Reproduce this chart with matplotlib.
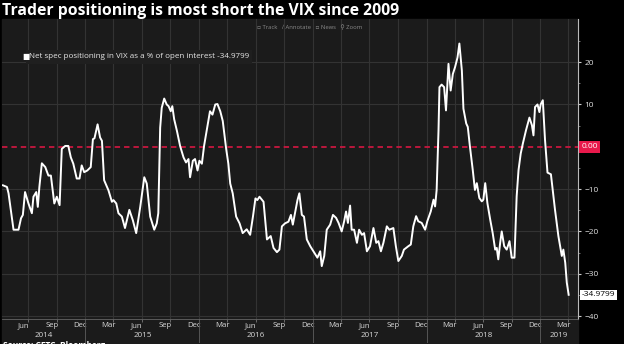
import matplotlib
matplotlib.use("Agg")
import matplotlib.pyplot as plt
import matplotlib.dates as mdates
import matplotlib.transforms as mtransforms
from matplotlib.patches import Rectangle
import pandas as pd

plt.rcParams["font.family"] = ["Open Sans", "DejaVu Sans"]

# CFTC net speculative positioning in VIX futures, % of open interest
dates = [
    "2014-04-11", "2014-04-24", "2014-04-29", "2014-05-15", "2014-05-31", "2014-06-08",
    "2014-06-14", "2014-06-21", "2014-07-02", "2014-07-13", "2014-07-18", "2014-07-27",
    "2014-08-01", "2014-08-06", "2014-08-14", "2014-08-25", "2014-09-04", "2014-09-12",
    "2014-09-23", "2014-10-01", "2014-10-10", "2014-10-17", "2014-10-28", "2014-11-07",
    "2014-11-15", "2014-11-23", "2014-12-04", "2014-12-13", "2014-12-20", "2014-12-28",
    "2015-01-07", "2015-01-18", "2015-01-25", "2015-01-30", "2015-02-09", "2015-02-17",
    "2015-02-23", "2015-03-02", "2015-03-16", "2015-03-27", "2015-04-01", "2015-04-10",
    "2015-04-17", "2015-04-28", "2015-05-08", "2015-05-22", "2015-06-02", "2015-06-13",
    "2015-06-26", "2015-07-09", "2015-07-17", "2015-07-28", "2015-08-10", "2015-08-18",
    "2015-08-23", "2015-08-29", "2015-09-03", "2015-09-11", "2015-09-19", "2015-09-25",
    "2015-10-02", "2015-10-07", "2015-10-13", "2015-10-22", "2015-11-01", "2015-11-12",
    "2015-11-20", "2015-11-28", "2015-12-03", "2015-12-12", "2015-12-19", "2015-12-27",
    "2016-01-02", "2016-01-10", "2016-01-17", "2016-01-26", "2016-02-05", "2016-02-13",
    "2016-02-22", "2016-02-29", "2016-03-09", "2016-03-17", "2016-03-28", "2016-04-04",
    "2016-04-10", "2016-04-18", "2016-04-29", "2016-05-10", "2016-05-20", "2016-06-02",
    "2016-06-13", "2016-06-22", "2016-06-30", "2016-07-06", "2016-07-13", "2016-07-26",
    "2016-08-06", "2016-08-18", "2016-08-27", "2016-09-07", "2016-09-15", "2016-09-23",
    "2016-10-03", "2016-10-14", "2016-10-22", "2016-10-28", "2016-11-04", "2016-11-12",
    "2016-11-18", "2016-11-26", "2016-12-03", "2016-12-12", "2016-12-23", "2017-01-08",
    "2017-01-15", "2017-01-24", "2017-01-29", "2017-02-06", "2017-02-14", "2017-02-25",
    "2017-03-06", "2017-03-16", "2017-03-24", "2017-04-03", "2017-04-11", "2017-04-17",
    "2017-04-23", "2017-04-30", "2017-05-05", "2017-05-13", "2017-05-22", "2017-05-29",
    "2017-06-07", "2017-06-14", "2017-06-23", "2017-07-03", "2017-07-14", "2017-07-23",
    "2017-07-30", "2017-08-07", "2017-08-15", "2017-08-26", "2017-09-03", "2017-09-16",
    "2017-09-24", "2017-10-02", "2017-10-13", "2017-10-20", "2017-11-03", "2017-11-11",
    "2017-11-19", "2017-11-28", "2017-12-05", "2017-12-16", "2017-12-27", "2018-01-03",
    "2018-01-14", "2018-01-23", "2018-01-28", "2018-02-02", "2018-02-08", "2018-02-11",
    "2018-02-18", "2018-02-26", "2018-03-04", "2018-03-12", "2018-03-19", "2018-03-26",
    "2018-04-02", "2018-04-10", "2018-04-16", "2018-04-24", "2018-04-29", "2018-05-08",
    "2018-05-13", "2018-05-20", "2018-05-29", "2018-06-05", "2018-06-11", "2018-06-19",
    "2018-06-27", "2018-07-02", "2018-07-08", "2018-07-15", "2018-07-24", "2018-08-01",
    "2018-08-09", "2018-08-14", "2018-08-19", "2018-08-25", "2018-08-30", "2018-09-07",
    "2018-09-15", "2018-09-24", "2018-10-01", "2018-10-10", "2018-10-17", "2018-10-23",
    "2018-10-30", "2018-11-06", "2018-11-16", "2018-11-27", "2018-12-05", "2018-12-10",
    "2018-12-15", "2018-12-23", "2018-12-29", "2019-01-02", "2019-01-09", "2019-01-16",
    "2019-01-24", "2019-02-04", "2019-02-17", "2019-02-28", "2019-03-11", "2019-03-16",
    "2019-03-22", "2019-03-27", "2019-04-02",
]
values = [
    -9.1, -9.5, -11.0, -19.6, -19.6, -16.9,
    -16.1, -10.7, -13.4, -15.7, -11.8, -10.7,
    -14.2, -9.5, -3.9, -4.8, -6.8, -6.8,
    -13.4, -11.8, -13.8, -0.5, 0.2, 0.2,
    -2.5, -4.0, -7.5, -7.5, -4.4, -6.0,
    -5.6, -4.8, 1.8, 2.0, 5.3, 2.2,
    1.4, -7.9, -10.3, -13.0, -12.6, -13.4,
    -15.7, -16.5, -19.2, -14.9, -17.3, -20.4,
    -14.2, -7.2, -8.7, -16.5, -19.6, -18.1,
    -15.7, 4.5, 9.2, 11.4, 10.0, 9.6,
    8.4, 9.6, 6.5, 3.7, 0.2, -2.5,
    -3.7, -2.9, -7.2, -3.3, -2.9, -5.6,
    -3.3, -4.0, 0.2, 4.1, 8.4, 7.6,
    10.0, 10.1, 8.4, 6.1, -0.5, -4.0,
    -8.7, -11.0, -16.5, -18.1, -20.4, -19.5,
    -20.8, -16.5, -12.2, -12.6, -11.8, -13.0,
    -21.9, -21.1, -23.9, -24.9, -24.3, -18.8,
    -18.1, -17.7, -16.1, -18.4, -15.7, -12.6,
    -11.0, -16.1, -16.5, -21.9, -23.5, -25.4,
    -26.2, -24.7, -28.2, -25.8, -19.6, -18.4,
    -16.1, -16.8, -18.0, -20.0, -17.6, -15.3,
    -18.0, -13.9, -19.6, -19.6, -22.7, -19.6,
    -20.8, -20.4, -24.7, -23.5, -19.2, -22.7,
    -22.3, -24.7, -22.7, -18.8, -19.6, -19.2,
    -23.5, -27.0, -25.8, -24.3, -23.5, -23.1,
    -18.8, -16.4, -17.6, -18.0, -19.6, -17.6,
    -15.3, -12.5, -14.1, -10.2, 3.9, 14.1,
    14.7, 14.1, 8.6, 19.6, 13.3, 17.2,
    18.8, 21.1, 24.4, 18.0, 9.0, 5.5,
    4.7, 0.0, -5.5, -10.2, -8.6, -12.1,
    -12.9, -12.5, -8.6, -13.3, -17.2, -20.4,
    -24.3, -23.9, -26.6, -22.7, -20.0, -23.5,
    -24.3, -22.3, -26.2, -26.2, -11.7, -5.5,
    -1.6, 0.8, 3.9, 6.9, 5.1, 2.7,
    9.4, 10.0, 8.2, 10.0, 11.0, 1.7,
    -6.1, -6.5, -14.8, -21.1, -25.8, -24.3,
    -27.4, -32.1, -34.9799,
]
series_name = "Net spec positioning in VIX as a % of open interest"
title = "Trader positioning is most short the VIX since 2009"
years = [2014, 2015, 2016, 2017, 2018, 2019]
y_ticks = [20, 10, -10, -20, -30, -40]

s = pd.Series(values, index=pd.to_datetime(dates))
x_start, x_end = pd.Timestamp("2014-04-08"), pd.Timestamp("2019-05-02")

W, H = 624, 344
fig = plt.figure(figsize=(W / 100, H / 100), dpi=100, facecolor="black")
panel = "#1b1b1b"
grid_c = "#333333"

# grey chart panel (plot + date axis); value axis strip stays black
fig.patches.append(Rectangle((2 / W, 0), 576 / W, (H - 19) / H,
                             transform=fig.transFigure, color=panel, zorder=-5))

ax = fig.add_axes([2 / W, (H - 319) / H, 576 / W, 300 / H])
ax.set_facecolor(panel)
ax.set_xlim(x_start, x_end)
ax.set_ylim(-40.7, 30.2)

# quarter grid lines and month labels in the middle of the month
ax.xaxis.set_minor_locator(mdates.MonthLocator(bymonth=[1, 4, 7, 10], bymonthday=1))
ax.xaxis.set_major_locator(mdates.MonthLocator(bymonth=[3, 6, 9, 12], bymonthday=15))
ax.xaxis.set_major_formatter(mdates.DateFormatter("%b"))
ax.grid(True, which="minor", axis="x", color=grid_c, lw=0.8)
ax.tick_params(axis="x", which="major", length=0, pad=2.5, labelsize=5.6, colors="#d8d8d8")
ax.tick_params(axis="x", which="minor", length=2, color="#777777")

ax.yaxis.tick_right()
ax.set_yticks(y_ticks)
ax.set_yticks([25, 15, 5, -5, -15, -25, -35], minor=True)
ax.grid(True, which="major", axis="y", color=grid_c, lw=0.8)
ax.tick_params(axis="y", which="major", length=2.5, width=0.8, color="#cccccc",
               pad=2, labelsize=6, colors="#e0e0e0")
ax.tick_params(axis="y", which="minor", length=1.5, color="#888888")

for side in ["top", "left"]:
    ax.spines[side].set_visible(False)
ax.spines["right"].set_color("#bbbbbb")
ax.spines["right"].set_linewidth(0.8)
ax.spines["bottom"].set_color("#666666")
ax.spines["bottom"].set_linewidth(0.6)

ax.axhline(0, color="#c8173f", lw=1.3, ls=(0, (3, 2.2)), zorder=2)
ax.plot(s.index, s.values, color="white", lw=1.4, zorder=3)

# year labels under the months, centred on each year's visible span
trans = mtransforms.blended_transform_factory(ax.transData, ax.transAxes)
for yr in years:
    a = max(pd.Timestamp(f"{yr}-01-01"), x_start)
    b = min(pd.Timestamp(f"{yr + 1}-01-01"), x_end)
    mid = a + (b - a) / 2
    ax.text(mid, -0.054, str(yr), transform=trans, ha="center", va="center",
            fontsize=5.8, color="#d8d8d8")
    if yr > years[0]:
        ax.plot([pd.Timestamp(f"{yr}-01-01")] * 2, [0, -0.075], transform=trans,
                color="#555555", lw=0.7, clip_on=False)

# value tags on the right axis
ytrans = mtransforms.blended_transform_factory(ax.transAxes, ax.transData)
ax.text(1.006, 0, "0.00", transform=ytrans, ha="left", va="center", fontsize=6,
        color="white", bbox=dict(boxstyle="square,pad=0.3", fc="#e8194b", ec="none"))
ax.text(1.006, values[-1], f"{values[-1]:.4f}", transform=ytrans, ha="left", va="center",
        fontsize=6, color="black", bbox=dict(boxstyle="square,pad=0.2", fc="white", ec="none"))

# legend line
fig.text(29 / W, 1 - 57 / H, f"{series_name} {values[-1]:.4f}", fontsize=5.75,
         color="#e6e6e6", va="center", ha="left", zorder=3,
         bbox=dict(boxstyle="square,pad=0.4", fc="#1f1f1f", ec="none"))
fig.text(22 / W, 1 - 57 / H, "\u25a0", fontsize=5.5, color="white", va="center", ha="left",
         zorder=6)

# chart toolbar
fig.text(310 / W, 1 - 27 / H, "\u25ab Track   \u2215 Annotate   \u25ab News   \u26b2 Zoom",
         fontsize=4.2, color="#8a8a8a", ha="center", va="center")

fig.text(2 / W, 1 - 11 / H, title, fontsize=11.3, fontweight="bold", color="white",
         ha="left", va="center")
fig.text(3 / W, 1 - 341.5 / H, "Source: CFTC, Bloomberg", fontsize=6, fontweight="bold",
         color="white", ha="left", va="top")

fig.savefig("out.png", dpi=100, facecolor="black")
